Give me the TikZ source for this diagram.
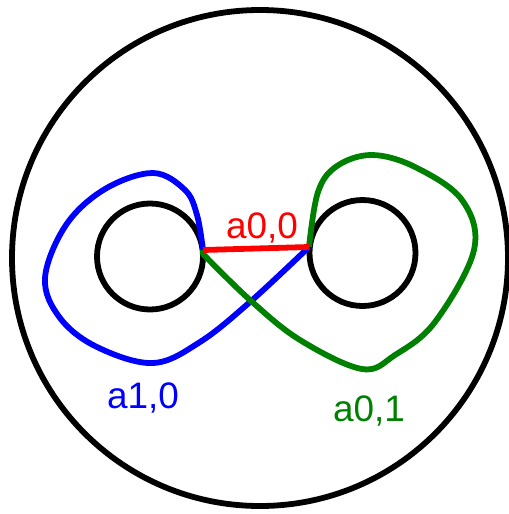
\documentclass[tikz,border=0pt]{standalone}
\usepackage{fontspec}
\setmainfont{Liberation Sans}
\usetikzlibrary{calc}
\definecolor{rot}{HTML}{FF0000}
\definecolor{blau}{HTML}{0000FF}
\definecolor{gruen}{HTML}{008000}

\begin{document}
\begin{tikzpicture}[x=0.02cm,y=-0.02cm,
  rand/.style={black,line width=3.3pt},
  kurve/.style={line width=3.3pt,line join=round},
  beschr/.style={font=\fontsize{21}{24}\selectfont,inner sep=0pt}]
  \useasboundingbox (0,0) rectangle (509,514);
  % Rand und Loecher
  \draw[rand] (260,258) circle (248);
  \draw[rand] (150,256.5) circle (53);
  \draw[rand] (362.5,253) circle (53);
  \coordinate (p) at (203,250);
  \coordinate (q) at (309,247);
  % Kurven
  \draw[blau,kurve] (q) -- plot[smooth,tension=0.6] coordinates {(309,247) (250,302) (200,342) (153,363) (97,347) (60,318) (45,278) (66,225) (105,189) (153,173) (185,190) (197,215) (203,250)};
  \draw[gruen,kurve] (p) -- plot[smooth,tension=0.6] coordinates {(203,254) (250,300) (300,340) (362,369) (395,355) (435,322) (474,250) (462,200) (415,167) (372,155) (337,166) (318,192) (309,247)};
  \draw[rot,kurve] (p) -- (q);
  % Beschriftung
  \node[rot,beschr] (l00) at (262,228) {a0,0};
  \node[blau,beschr] (l10) at (143,398) {a1,0};
  \node[gruen,beschr] (l01) at (369,411) {a0,1};
\end{tikzpicture}
\end{document}
